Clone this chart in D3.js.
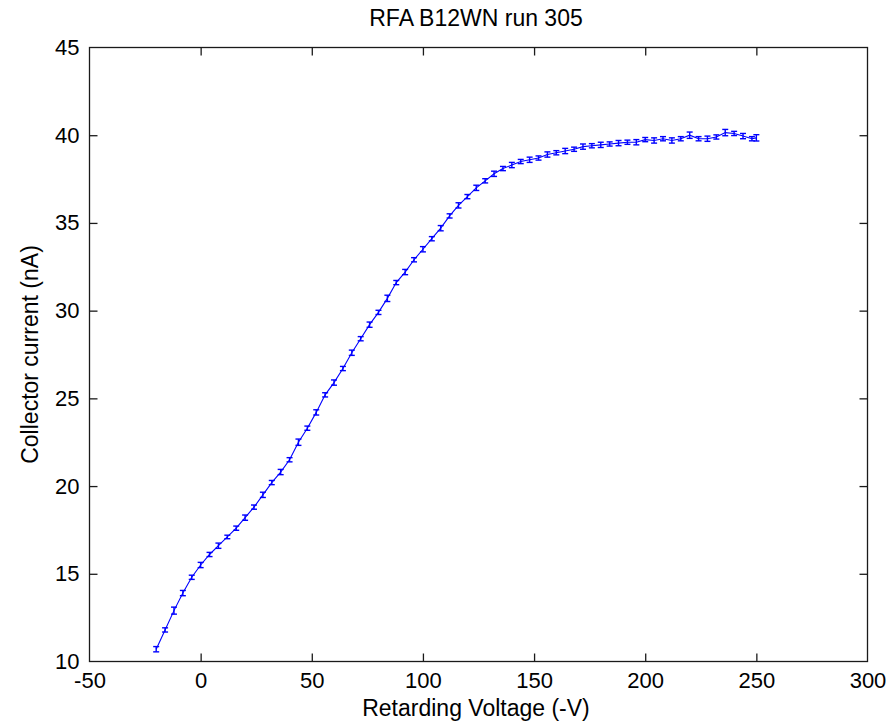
<!DOCTYPE html>
<html>
<head>
<meta charset="utf-8">
<script src="https://cdn.jsdelivr.net/npm/d3@7"></script>
<style>
  html, body { margin: 0; padding: 0; background: #fff; }
  svg { display: block; }
  text { font-family: "Liberation Sans", Arial, sans-serif; fill: #000; }
</style>
</head>
<body>
<svg id="chart" width="896" height="723"></svg>
<script>
// ---- data ----
const title = "RFA B12WN run 305";
const xLabel = "Retarding Voltage (-V)";
const yLabel = "Collector current (nA)";
const xTicks = [-50, 0, 50, 100, 150, 200, 250, 300];
const yTicks = [10, 15, 20, 25, 30, 35, 40, 45];

const voltage = [-20,-16,-12,-8,-4,0,4,8,12,16,20,24,28,32,36,40,44,48,52,56,60,64,68,72,76,80,84,88,92,96,100,104,108,112,116,120,124,128,132,136,140,144,148,152,156,160,164,168,172,176,180,184,188,192,196,200,204,208,212,216,220,224,228,232,236,240,244,248,250];
const current = [10.7,11.8,12.9,13.9,14.8,15.5,16.1,16.6,17.1,17.6,18.2,18.8,19.5,20.2,20.8,21.5,22.5,23.3,24.2,25.2,25.9,26.7,27.6,28.4,29.2,29.9,30.7,31.6,32.2,32.9,33.5,34.1,34.7,35.4,36.0,36.5,37.0,37.4,37.8,38.1,38.3,38.5,38.6,38.7,38.9,39.0,39.1,39.2,39.35,39.4,39.45,39.5,39.55,39.6,39.6,39.75,39.7,39.8,39.7,39.8,40.0,39.8,39.8,39.9,40.15,40.1,39.95,39.8,39.85];
const errorBar = [0.15,0.12,0.2,0.15,0.12,0.15,0.12,0.15,0.1,0.12,0.15,0.12,0.15,0.12,0.15,0.12,0.18,0.12,0.15,0.12,0.15,0.12,0.15,0.12,0.15,0.12,0.18,0.12,0.15,0.12,0.15,0.12,0.15,0.12,0.15,0.12,0.15,0.12,0.15,0.12,0.15,0.12,0.15,0.12,0.15,0.12,0.15,0.12,0.15,0.12,0.15,0.12,0.15,0.12,0.15,0.12,0.15,0.12,0.15,0.12,0.18,0.12,0.15,0.12,0.18,0.12,0.15,0.12,0.18];

// ---- layout ----
const svg = d3.select("#chart");
const mLeft = 89.5, mRight = 867.5, mTop = 47.5, mBottom = 661.5;

const x = d3.scaleLinear().domain([-50, 300]).range([mLeft, mRight]);
const y = d3.scaleLinear().domain([10, 45]).range([mBottom, mTop]);

const axisColor = "#1a1a1a";
const tickLen = 8;

// frame
svg.append("rect")
  .attr("x", mLeft).attr("y", mTop)
  .attr("width", mRight - mLeft).attr("height", mBottom - mTop)
  .attr("fill", "none").attr("stroke", axisColor).attr("stroke-width", 1.3);

// axes via d3 (inward ticks, mirrored)
const fontSize = "22px";
const fmt = d => String(d);
const gx = svg.append("g").attr("transform", `translate(0,${mBottom})`)
  .call(d3.axisBottom(x).tickValues(xTicks).tickSize(-tickLen).tickPadding(11).tickFormat(fmt));
const gxTop = svg.append("g").attr("transform", `translate(0,${mTop})`)
  .call(d3.axisTop(x).tickValues(xTicks).tickSize(-tickLen).tickFormat(""));
const gy = svg.append("g").attr("transform", `translate(${mLeft},0)`)
  .call(d3.axisLeft(y).tickValues(yTicks).tickSize(-tickLen).tickPadding(10).tickFormat(fmt));
const gyR = svg.append("g").attr("transform", `translate(${mRight},0)`)
  .call(d3.axisRight(y).tickValues(yTicks).tickSize(-tickLen).tickFormat(""));

[gx, gxTop, gy, gyR].forEach(g => {
  g.select(".domain").remove();
  g.selectAll(".tick line").attr("stroke", axisColor).attr("stroke-width", 1.3);
  g.selectAll(".tick text").attr("font-size", fontSize)
    .attr("font-family", "'Liberation Sans', Arial, sans-serif").attr("fill", "#000");
});
gx.selectAll(".tick line").filter(d => d === -50 || d === 300).remove();
gxTop.selectAll(".tick line").filter(d => d === -50 || d === 300).remove();
gy.selectAll(".tick line").filter(d => d === 10 || d === 45).remove();
gyR.selectAll(".tick line").filter(d => d === 10 || d === 45).remove();

// titles
const labelSize = "23px";
svg.append("text").attr("x", 476).attr("y", 26)
  .attr("text-anchor", "middle").attr("font-size", labelSize).text(title);
svg.append("text").attr("x", 476).attr("y", 716)
  .attr("text-anchor", "middle").attr("font-size", labelSize).text(xLabel);
svg.append("text")
  .attr("transform", `translate(38,${(mTop + mBottom) / 2}) rotate(-90)`)
  .attr("text-anchor", "middle").attr("font-size", labelSize).text(yLabel);

// data
const data = voltage.map((v, i) => ({ v, c: current[i], e: errorBar[i] }));
const blue = "#0000ff";

svg.append("path").datum(data)
  .attr("fill", "none").attr("stroke", blue).attr("stroke-width", 1.1)
  .attr("d", d3.line().x(d => x(d.v)).y(d => y(d.c)));

const eb = svg.append("g").attr("stroke", blue).attr("stroke-width", 1.4);
data.forEach(d => {
  const cx = x(d.v);
  eb.append("line").attr("x1", cx).attr("x2", cx).attr("y1", y(d.c - d.e)).attr("y2", y(d.c + d.e));
  eb.append("line").attr("x1", cx - 3).attr("x2", cx + 3).attr("y1", y(d.c - d.e)).attr("y2", y(d.c - d.e));
  eb.append("line").attr("x1", cx - 3).attr("x2", cx + 3).attr("y1", y(d.c + d.e)).attr("y2", y(d.c + d.e));
});
</script>
</body>
</html>
